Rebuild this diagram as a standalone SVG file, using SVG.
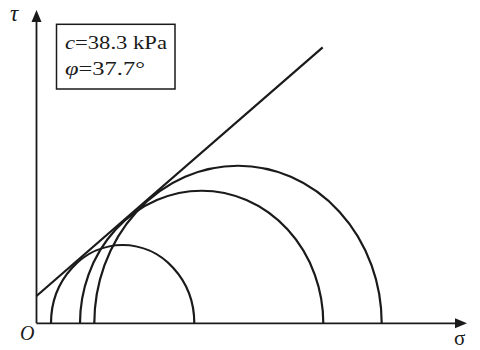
<svg xmlns="http://www.w3.org/2000/svg" width="480" height="350" viewBox="0 0 480 350">
<defs>
<style>
.ax{stroke:#1a1a1a;stroke-width:1.8;fill:none}
.arc{stroke:#1a1a1a;stroke-width:2.2;fill:none}
.ah{fill:#1a1a1a}
.t{font-family:"Liberation Serif","Times New Roman",serif;fill:#1a1a1a}
</style>
</defs>
<rect width="480" height="350" fill="#fff"/>
<g id="axes">
<line class="ax" x1="36.5" y1="323.3" x2="36.5" y2="20"/>
<polygon class="ah" points="36.5,10 31.5,22 41.5,22"/>
<line class="ax" x1="36.5" y1="323.3" x2="457" y2="323.3"/>
<polygon class="ah" points="467,323.3 455,318.3 455,328.3"/>
<text class="t" x="10" y="21" font-size="23" font-style="italic">τ</text>
<text class="t" x="454" y="345" font-size="21">σ</text>
<text class="t" x="20" y="340" font-size="20" font-style="italic">O</text>
</g>
<g id="legend">
<rect x="56.5" y="24.3" width="118.5" height="64.7" fill="none" stroke="#1a1a1a" stroke-width="1.5"/>
<text class="t" x="65" y="48.5" font-size="19" textLength="102" lengthAdjust="spacingAndGlyphs"><tspan font-style="italic">c</tspan>=38.3 kPa</text>
<text class="t" x="65" y="75" font-size="19" textLength="80" lengthAdjust="spacingAndGlyphs"><tspan font-style="italic">φ</tspan>=37.7°</text>
</g>
<g id="connectors">
<line class="arc" x1="36.5" y1="296" x2="322.7" y2="47.3"/>
</g>
<g id="circle1"><path class="arc" d="M51 323.3 A71.65 78.3 0 0 1 194.3 323.3"/></g>
<g id="circle2"><path class="arc" d="M80 323.3 A121.65 132.6 0 0 1 323.3 323.3"/></g>
<g id="circle3"><path class="arc" d="M94.3 323.3 A143.7 157.6 0 0 1 381.7 323.3"/></g>
</svg>
